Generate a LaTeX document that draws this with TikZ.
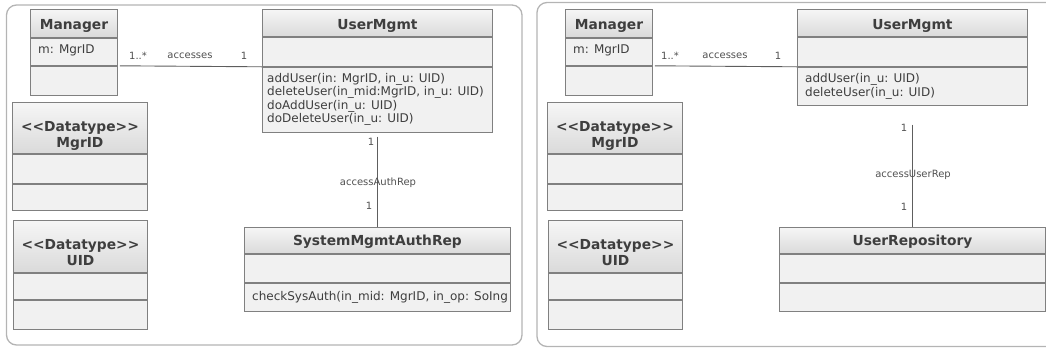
\documentclass[tikz,border=0pt]{standalone}
\usepackage{fontspec}
\setmainfont{DejaVu Sans}
\definecolor{panelgray}{HTML}{B4B4B4}
\definecolor{boxline}{HTML}{808080}
\definecolor{hdtop}{HTML}{F6F6F6}
\definecolor{hdbot}{HTML}{DADADA}
\definecolor{cmpfill}{HTML}{F1F1F1}
\definecolor{txt}{HTML}{3E3E3E}
\definecolor{lbltxt}{HTML}{505050}
\definecolor{wire}{HTML}{5E5E5E}
\tikzset{
  panel/.style={draw=panelgray, line width=1.3pt, rounded corners=10pt},
  hdr/.style={draw=boxline, line width=0.9pt, top color=hdtop, bottom color=hdbot,
    anchor=north west, inner sep=0pt},
  cmp/.style={draw=boxline, line width=0.9pt, fill=cmpfill, anchor=north west, inner sep=0pt},
  title/.style={anchor=base, inner sep=0pt, text=txt, align=center,
    font=\bfseries\fontsize{13.8}{16}\selectfont},
  body/.style={anchor=west, inner sep=0pt, text=txt, align=left,
    font=\fontsize{12}{13.3}\selectfont},
  lbl/.style={inner sep=0pt, text=lbltxt, font=\fontsize{10}{12}\selectfont},
  wireline/.style={draw=wire, line width=0.9pt}
}
\begin{document}
\begin{tikzpicture}[x=1pt,y=-1pt]
\useasboundingbox (0,0) rectangle (1046,349);
\begin{scope}
\clip (0,0) rectangle (1046,349);
% two framed views
\draw[panel] (6.5,5) rectangle (522,345);
\draw[panel] (537,2.5) rectangle (1070,346.5);
\end{scope}

% ---------------- left view ----------------
% Manager
\node[hdr, minimum width=87pt, minimum height=28pt] (mgr-h) at (30,9) {};
\node[cmp, minimum width=87pt, minimum height=27pt] (mgr-a) at (mgr-h.south west) {};
\node[cmp, minimum width=87pt, minimum height=29pt] (mgr-o) at (mgr-a.south west) {};
\node[title] (mgr-t) at ([yshift=-6.5pt]mgr-h.center) {Manager};
\node[body] (mgr-at) at ([xshift=8pt,yshift=1pt]mgr-a.west) {m: MgrID};

% UserMgmt
\node[hdr, minimum width=230pt, minimum height=27pt] (um-h) at (262,9) {};
\node[cmp, minimum width=230pt, minimum height=29pt] (um-a) at (um-h.south west) {};
\node[cmp, minimum width=230pt, minimum height=65pt] (um-o) at (um-a.south west) {};
\node[title] (um-t) at ([yshift=-7pt]um-h.center) {UserMgmt};
\node[body] (um-ot) at ([xshift=5pt,yshift=0.5pt]um-o.west)
  {addUser(in: MgrID, in\_u: UID)\\deleteUser(in\_mid:MgrID, in\_u: UID)\\doAddUser(in\_u: UID)\\doDeleteUser(in\_u: UID)};

% Datatype MgrID
\node[hdr, minimum width=135pt, minimum height=51pt] (dtm-h) at (12,102) {};
\node[cmp, minimum width=135pt, minimum height=29pt] (dtm-a) at (dtm-h.south west) {};
\node[cmp, minimum width=135pt, minimum height=26pt] (dtm-o) at (dtm-a.south west) {};
\node[title] (dtm-t) at ([yshift=-19.5pt]dtm-h.center) {<{}<Datatype>{}>\\MgrID};

% Datatype UID
\node[hdr, minimum width=134pt, minimum height=52pt] (dtu-h) at (13,220) {};
\node[cmp, minimum width=134pt, minimum height=26pt] (dtu-a) at (dtu-h.south west) {};
\node[cmp, minimum width=134pt, minimum height=29pt] (dtu-o) at (dtu-a.south west) {};
\node[title] (dtu-t) at ([yshift=-19.5pt]dtu-h.center) {<{}<Datatype>{}>\\UID};

% SystemMgmtAuthRep
\node[hdr, minimum width=266pt, minimum height=26pt] (sys-h) at (244,227) {};
\node[cmp, minimum width=266pt, minimum height=28pt] (sys-a) at (sys-h.south west) {};
\node[cmp, minimum width=266pt, minimum height=28pt] (sys-o) at (sys-a.south west) {};
\node[title] (sys-t) at ([yshift=-5.5pt]sys-h.center) {SystemMgmtAuthRep};
\begin{scope}
\clip (sys-o.south west) rectangle (sys-o.north east);
\node[body] (sys-ot) at ([xshift=8pt]sys-o.west) {checkSysAuth(in\_mid: MgrID, in\_op: SoIng};
\end{scope}

% associations
\draw[wireline] ([xshift=2pt]mgr-a.south east) -- (um-a.south west);
\node[lbl] at (138,56) {1..*};
\node[lbl] at (190,56) {accesses};
\node[lbl] at (244,56) {1};
\draw[wireline] ([yshift=-4pt]um-o.south) -- (sys-h.north);
\node[lbl] at (371,142) {1};
\node[lbl] at (378,183) {accessAuthRep};
\node[lbl] at (369,206) {1};

% ---------------- right view ----------------
% Manager
\node[hdr, minimum width=87pt, minimum height=28pt] (mgr2-h) at (565,9) {};
\node[cmp, minimum width=87pt, minimum height=27pt] (mgr2-a) at (mgr2-h.south west) {};
\node[cmp, minimum width=87pt, minimum height=29pt] (mgr2-o) at (mgr2-a.south west) {};
\node[title] (mgr2-t) at ([yshift=-6.5pt]mgr2-h.center) {Manager};
\node[body] (mgr2-at) at ([xshift=8pt,yshift=1pt]mgr2-a.west) {m: MgrID};

% UserMgmt
\node[hdr, minimum width=230pt, minimum height=27pt] (um2-h) at (797,9) {};
\node[cmp, minimum width=230pt, minimum height=29pt] (um2-a) at (um2-h.south west) {};
\node[cmp, minimum width=230pt, minimum height=38pt] (um2-o) at (um2-a.south west) {};
\node[title] (um2-t) at ([yshift=-7pt]um2-h.center) {UserMgmt};
\node[body] (um2-ot) at ([xshift=8pt]um2-o.west) {addUser(in\_u: UID)\\deleteUser(in\_u: UID)};

% Datatype MgrID
\node[hdr, minimum width=135pt, minimum height=51pt] (dtm2-h) at (547,102) {};
\node[cmp, minimum width=135pt, minimum height=29pt] (dtm2-a) at (dtm2-h.south west) {};
\node[cmp, minimum width=135pt, minimum height=26pt] (dtm2-o) at (dtm2-a.south west) {};
\node[title] (dtm2-t) at ([yshift=-19.5pt]dtm2-h.center) {<{}<Datatype>{}>\\MgrID};

% Datatype UID
\node[hdr, minimum width=134pt, minimum height=52pt] (dtu2-h) at (548,220) {};
\node[cmp, minimum width=134pt, minimum height=26pt] (dtu2-a) at (dtu2-h.south west) {};
\node[cmp, minimum width=134pt, minimum height=29pt] (dtu2-o) at (dtu2-a.south west) {};
\node[title] (dtu2-t) at ([yshift=-19.5pt]dtu2-h.center) {<{}<Datatype>{}>\\UID};

% UserRepository
\node[hdr, minimum width=266pt, minimum height=26pt] (rep-h) at (779,227) {};
\node[cmp, minimum width=266pt, minimum height=28pt] (rep-a) at (rep-h.south west) {};
\node[cmp, minimum width=266pt, minimum height=28pt] (rep-o) at (rep-a.south west) {};
\node[title] (rep-t) at ([yshift=-5.5pt]rep-h.center) {UserRepository};

% associations
\draw[wireline] ([xshift=2pt]mgr2-a.south east) -- (um2-a.south west);
\node[lbl] at (670,56) {1..*};
\node[lbl] at (725,56) {accesses};
\node[lbl] at (778,56) {1};
\draw[wireline] ([yshift=-19pt]um2-o.south) -- (rep-h.north);
\node[lbl] at (904,128) {1};
\node[lbl] at (913,175) {accessUserRep};
\node[lbl] at (904,207) {1};
\end{tikzpicture}
\end{document}
